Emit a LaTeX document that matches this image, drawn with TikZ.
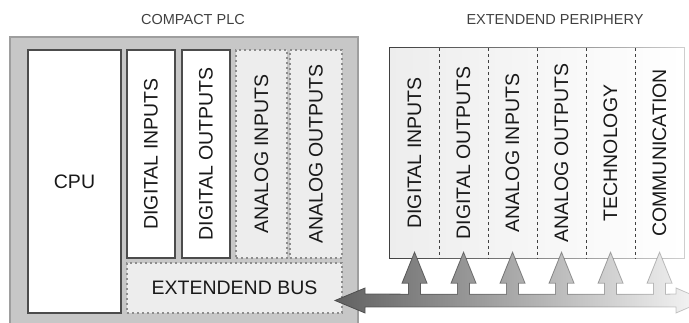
\documentclass[tikz,border=0pt]{standalone}
\usepackage{fontspec}
\setmainfont{Liberation Sans}
\usetikzlibrary{calc, fadings}

\tikzfading[name=fadeeast, left color=transparent!0, right color=transparent!75]

\tikzset{
  title/.style = {font=\fontsize{14.5}{16}\selectfont, text=black!75},
  module/.style = {draw=black!70, line width=1.5pt, fill=white, inner sep=0pt,
                   font=\fontsize{19.5}{22}\selectfont, text=black!90},
  spare/.style = {module, draw=black!45, fill=black!7, line width=1.2pt,
                  dash pattern=on 2pt off 3pt},
  slot/.style = {inner sep=0pt, minimum width=49pt, minimum height=210pt,
                 font=\fontsize{19.5}{22}\selectfont, text=black!90}
}

\begin{document}
\begin{tikzpicture}[x = 1pt, y = -1pt]

\useasboundingbox (0, 0) rectangle (689, 323);

% compact controller
\draw[draw = black!38, fill = black!22, line width = 1.5pt] (10, 326) -- (10, 37) -- (358, 37) -- (358, 326);
\node[title] (plctitle) at (193, 20) {COMPACT PLC};

\node[module, minimum width = 93pt, minimum height = 263pt] (cpu) at (74.5, 181.5) {CPU};
\node[module, minimum width = 48pt, minimum height = 208pt] (di) at (151, 154) {\rotatebox{90}{DIGITAL INPUTS}};
\node[module, minimum width = 48pt, minimum height = 208pt] (do) at (206, 154) {\rotatebox{90}{DIGITAL OUTPUTS}};
\node[spare, minimum width = 51pt, minimum height = 208pt] (ai) at (261.5, 154) {\rotatebox{90}{ANALOG INPUTS}};
\node[spare, minimum width = 52pt, minimum height = 208pt] (ao) at (316, 154) {\rotatebox{90}{ANALOG OUTPUTS}};
\node[spare, minimum width = 215pt, minimum height = 50pt] (bus) at (234.5, 288) {EXTENDEND BUS};

% extension modules
\node[title] (pertitle) at (555, 20) {EXTENDEND PERIPHERY};
\shade[left color = black!7, right color = white] (390, 48) rectangle (684, 258);

\foreach \i/\txt in {1/DIGITAL INPUTS, 2/DIGITAL OUTPUTS, 3/ANALOG INPUTS,
                     4/ANALOG OUTPUTS, 5/TECHNOLOGY, 6/COMMUNICATION}
  \node[slot] (p\i) at (365.5 + 49*\i, 153) {\rotatebox{90}{\txt}};

\foreach \i in {1,...,5}
  \draw[black!75, line width = 1.3pt, dash pattern = on 3pt off 3pt] (p\i.north east) -- (p\i.south east);

\draw[black!75, line width = 1.2pt, path fading = fadeeast] (p1.north west) rectangle (p6.south east);

% bus with one branch to every module
\def\busarrow{(335, 300.5) -- (365, 288) -- (365, 294)
  \foreach \i in {1,...,6} {
    -- ($(p\i.south) + (-6, 36)$) -- ($(p\i.south) + (-6, 25)$) -- ($(p\i.south) + (-12.5, 25)$)
    -- ($(p\i.south) + (0, -6)$)
    -- ($(p\i.south) + (12.5, 25)$) -- ($(p\i.south) + (6, 25)$) -- ($(p\i.south) + (6, 36)$)
  }
  -- (676, 294) -- (676, 288) -- (705, 300.5) -- (676, 313) -- (676, 307)
  -- (365, 307) -- (365, 313) -- cycle}

\shade[left color = black!62, right color = black!3] \busarrow;
\draw[black!70, line width = 0.8pt, path fading = fadeeast] \busarrow;

\end{tikzpicture}
\end{document}
